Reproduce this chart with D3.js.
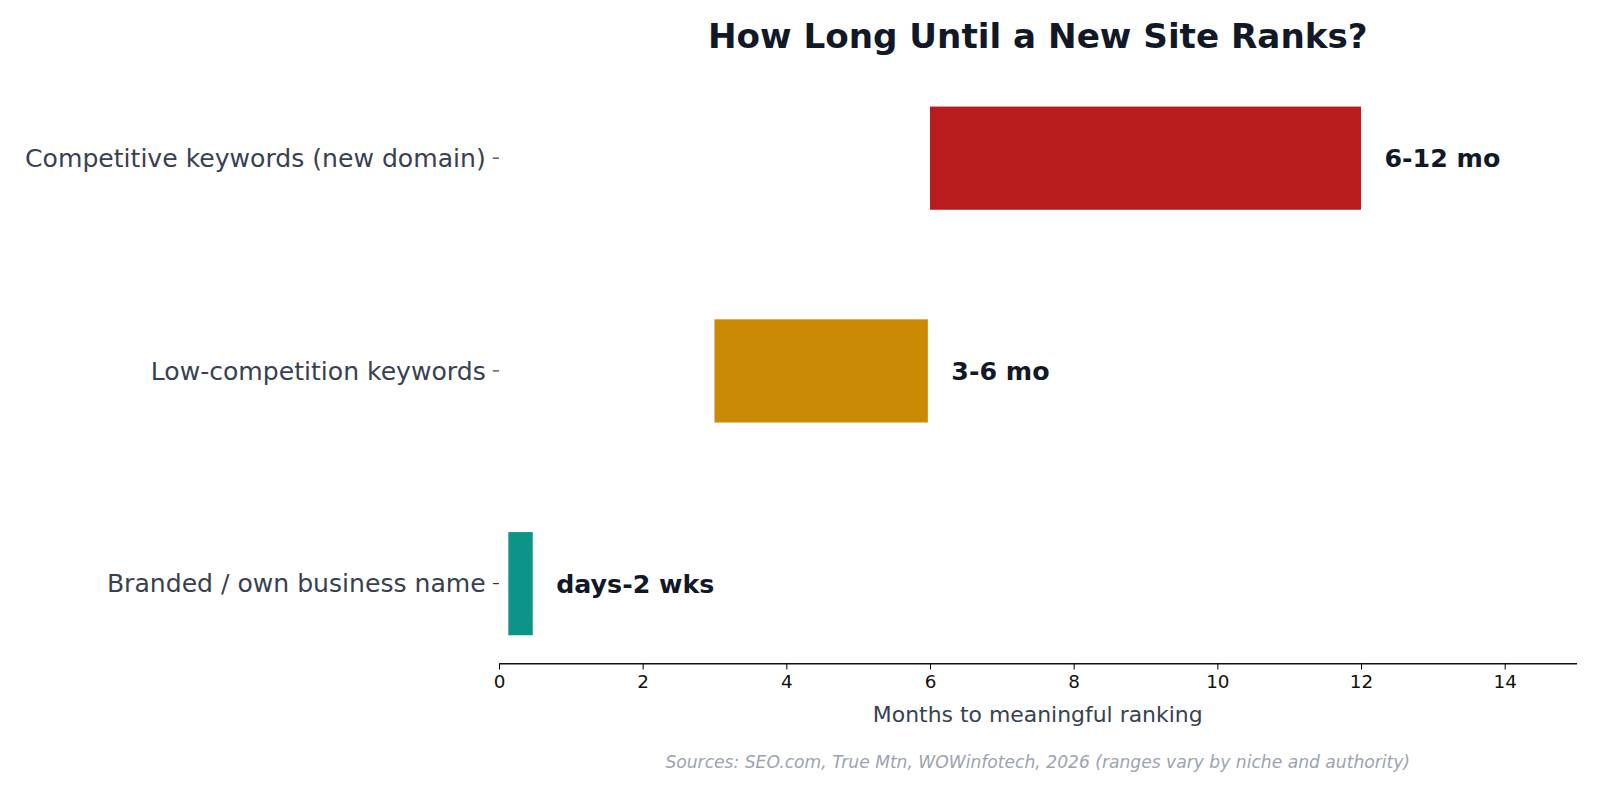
<!DOCTYPE html>
<html><head><meta charset="utf-8">
<script src="https://cdn.jsdelivr.net/npm/d3@7"></script>
<style>body{margin:0;background:#fff}</style></head>
<body><svg id="c" width="1600" height="800"></svg>
<script>
const categories = ["Branded / own business name","Low-competition keywords","Competitive keywords (new domain)"];
const starts = [0.13, 3, 6];
const ends = [0.47, 5.97, 12];
const labels = ["days-2 wks","3-6 mo","6-12 mo"];
const colors = ["#0d9488","#ca8a04","#b91c1c"];
const ticks = [0,2,4,6,8,10,12,14];

const svg = d3.select("#c").append("g").attr("transform","scale(1.0204)");
const font = "DejaVu Sans, sans-serif";
const x = d3.scaleLinear().domain([0,15]).range([489,1545]);
const y = d3.scaleLinear().domain([0,2]).range([572,155]);
const bh = y(0)-y(0.485);

svg.append("text").attr("x",1017).attr("y",47).attr("text-anchor","middle")
  .attr("font-family",font).attr("font-weight","bold").attr("font-size",33.5).attr("fill","#111827")
  .text("How Long Until a New Site Ranks?");

categories.forEach((c,i)=>{
  svg.append("rect").attr("x",x(starts[i])).attr("width",x(ends[i])-x(starts[i]))
    .attr("y",y(i)-bh/2).attr("height",bh).attr("fill",colors[i]);
  svg.append("text").attr("x",x(ends[i])+23).attr("y",y(i)).attr("dy","0.35em")
    .attr("font-family",font).attr("font-weight","bold").attr("font-size",24.8).attr("fill","#111827")
    .text(labels[i]);
  svg.append("line").attr("x1",483).attr("x2",489).attr("y1",y(i)).attr("y2",y(i)).attr("stroke","#111");
  svg.append("text").attr("x",476).attr("y",y(i)).attr("dy","0.35em").attr("text-anchor","end")
    .attr("font-family",font).attr("font-size",24.6).attr("fill","#374151").text(c);
});

const ax = svg.append("g").attr("transform","translate(0,650)")
  .call(d3.axisBottom(x).tickValues(ticks).tickSize(6).tickSizeOuter(0));
ax.select(".domain").attr("stroke","#111").attr("stroke-width",1.3);
ax.selectAll("text").attr("font-family",font).attr("font-size",18).attr("fill","#111").attr("dy","0.85em");

svg.append("text").attr("x",1017).attr("y",708).attr("text-anchor","middle")
  .attr("font-family",font).attr("font-size",21.5).attr("fill","#374151").text("Months to meaningful ranking");
svg.append("text").attr("x",1017).attr("y",753).attr("text-anchor","middle")
  .attr("font-family",font).attr("font-style","italic").attr("font-size",16.8).attr("fill","#9ca3af")
  .text("Sources: SEO.com, True Mtn, WOWinfotech, 2026 (ranges vary by niche and authority)");
</script></body></html>
